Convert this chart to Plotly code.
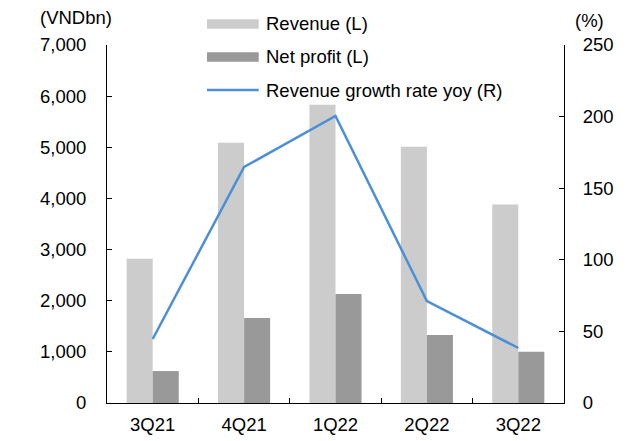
import plotly.graph_objects as go

categories = ["3Q21", "4Q21", "1Q22", "2Q22", "3Q22"]
revenue = [2820, 5090, 5830, 5010, 3880]
net_profit = [625, 1660, 2130, 1330, 1000]
growth = [44.7, 164.8, 200.4, 71.2, 38.4]
series_names = ["Revenue (L)", "Net profit (L)", "Revenue growth rate yoy (R)"]
left_ticks = [0, 1000, 2000, 3000, 4000, 5000, 6000, 7000]
right_ticks = [0, 50, 100, 150, 200, 250]

FONT = "Liberation Sans, Arial, sans-serif"
FS = 18.5
C_REV = "#CCCCCC"
C_NP = "#999999"
C_LINE = "#4D8FD6"

fig = go.Figure()
fig.add_trace(go.Bar(x=categories, y=revenue, name=series_names[0],
                     marker=dict(color=C_REV, line=dict(width=0)), showlegend=False))
fig.add_trace(go.Bar(x=categories, y=net_profit, name=series_names[1],
                     marker=dict(color=C_NP, line=dict(width=0)), showlegend=False))
fig.add_trace(go.Scatter(x=categories, y=growth, name=series_names[2], yaxis="y2",
                         mode="lines", line=dict(color=C_LINE, width=2.5), showlegend=False))

fig.update_layout(
    width=642, height=441,
    margin=dict(l=107, r=78, t=45, b=38, autoexpand=False),
    paper_bgcolor="white", plot_bgcolor="white",
    font=dict(family=FONT, size=FS, color="#000000"),
    barmode="group", bargap=0.43, bargroupgap=0,
    xaxis=dict(showline=True, linecolor="black", linewidth=1,
               ticks="inside", ticklen=5, tickcolor="black", tickson="boundaries",
               showgrid=False, zeroline=False, ticklabelstandoff=5),
    yaxis=dict(range=[0, 7000], tickvals=left_ticks, tickformat=",",
               showline=True, linecolor="black", linewidth=1,
               ticks="inside", ticklen=5, tickcolor="black",
               showgrid=False, zeroline=False, ticklabelstandoff=16),
    yaxis2=dict(range=[0, 250], tickvals=right_ticks, overlaying="y", side="right",
                showline=True, linecolor="black", linewidth=1,
                ticks="inside", ticklen=5, tickcolor="black",
                showgrid=False, zeroline=False, ticklabelstandoff=14),
)

# Custom legend
rows_y = [1.0587, 0.9665, 0.8743]
sx0, sx1 = 0.2188, 0.332
fig.add_shape(type="rect", xref="paper", yref="paper", x0=sx0, x1=sx1,
              y0=rows_y[0] - 0.0135, y1=rows_y[0] + 0.0135, fillcolor=C_REV, line=dict(width=0))
fig.add_shape(type="rect", xref="paper", yref="paper", x0=sx0, x1=sx1,
              y0=rows_y[1] - 0.0135, y1=rows_y[1] + 0.0135, fillcolor=C_NP, line=dict(width=0))
fig.add_shape(type="line", xref="paper", yref="paper", x0=sx0, x1=sx1,
              y0=rows_y[2], y1=rows_y[2], line=dict(color=C_LINE, width=2.5))
for name, yv in zip(series_names, rows_y):
    fig.add_annotation(text=name, xref="paper", yref="paper", x=0.3435, y=yv,
                       xanchor="left", yanchor="middle", showarrow=False,
                       font=dict(family=FONT, size=FS, color="#000000"))

# Axis unit labels
fig.add_annotation(text="(VNDbn)", xref="paper", yref="paper", x=-0.152, y=1.077,
                   xanchor="left", yanchor="middle", showarrow=False,
                   font=dict(family=FONT, size=FS, color="#000000"))
fig.add_annotation(text="(%)", xref="paper", yref="paper", x=1.019, y=1.068,
                   xanchor="left", yanchor="middle", showarrow=False,
                   font=dict(family=FONT, size=FS, color="#000000"))

fig.write_html("out.html", config={"displayModeBar": False},
               post_script="document.body.style.margin='0';")
